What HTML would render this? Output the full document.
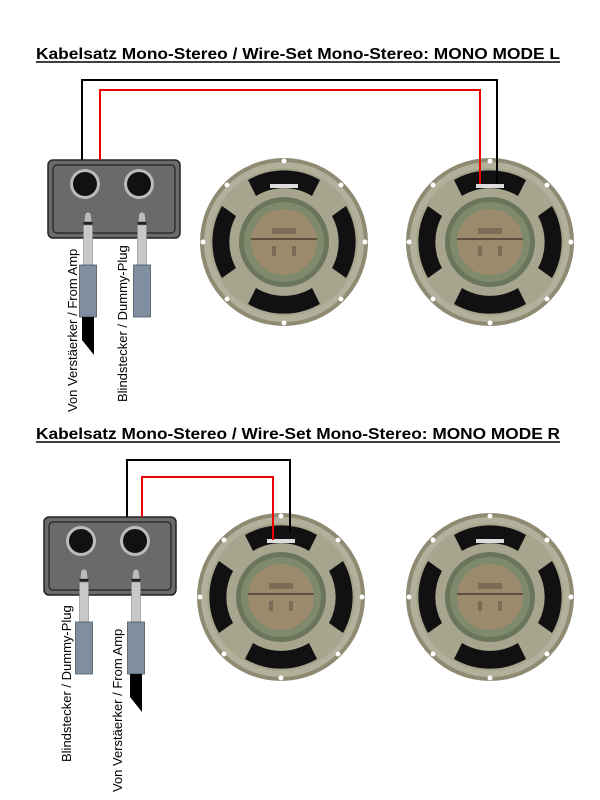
<!DOCTYPE html>
<html><head><meta charset="utf-8"><style>
html,body{margin:0;padding:0;background:#fff;width:600px;height:800px;overflow:hidden}
svg{display:block}
text{font-family:"Liberation Sans",Arial,sans-serif}
</style></head><body>
<svg width="600" height="800" viewBox="0 0 600 800" xmlns="http://www.w3.org/2000/svg">
<defs>
<g id="spk">
  <circle r="84" fill="#8e8b72"/>
  <circle r="80" fill="#b3b19b"/>
  <circle r="74" fill="#a7a58d"/>
  <path d="M-36,-62 A72,72 0 0 1 36,-62 L28,-46 A54,54 0 0 0 -28,-46Z" fill="#111"/>
  <path d="M-36,62 A72,72 0 0 0 36,62 L28,46 A54,54 0 0 1 -28,46Z" fill="#111"/>
  <path d="M-62,-36 A72,72 0 0 0 -62,36 L-48,26 A54,54 0 0 1 -48,-26Z" fill="#111"/>
  <path d="M62,-36 A72,72 0 0 1 62,36 L48,26 A54,54 0 0 0 48,-26Z" fill="#111"/>
  <circle r="45" fill="#6b755b"/>
  <circle r="40" fill="#7f8a6c"/>
  <circle r="33" fill="#9c8a6c"/>
  <rect x="-33" y="-4" width="66" height="2" fill="#5e5040"/>
  <rect x="-12" y="-14" width="24" height="6" fill="#7b6c55"/>
  <rect x="-12" y="4" width="4" height="10" fill="#7b6c55"/>
  <rect x="8" y="4" width="4" height="10" fill="#7b6c55"/>
  <rect x="-14" y="-58" width="28" height="4" fill="#ddd"/>
  <circle cx="0" cy="-81" r="2.5" fill="#fff"/><circle cx="0" cy="81" r="2.5" fill="#fff"/>
  <circle cx="-81" cy="0" r="2.5" fill="#fff"/><circle cx="81" cy="0" r="2.5" fill="#fff"/>
  <circle cx="-57" cy="-57" r="2.5" fill="#fff"/><circle cx="57" cy="-57" r="2.5" fill="#fff"/>
  <circle cx="-57" cy="57" r="2.5" fill="#fff"/><circle cx="57" cy="57" r="2.5" fill="#fff"/>
</g>
<g id="box">
  <rect x="0" y="0" width="132" height="78" rx="5" fill="#6a6a6a" stroke="#222" stroke-width="1.5"/>
  <rect x="5" y="5" width="122" height="68" rx="4" fill="none" stroke="#222" stroke-width="1.2"/>
  <circle cx="37" cy="24" r="15" fill="#bbb"/><circle cx="37" cy="24" r="12" fill="#111"/>
  <circle cx="91" cy="24" r="15" fill="#bbb"/><circle cx="91" cy="24" r="12" fill="#111"/>
</g>
<g id="plug">
  <path d="M-3,0 Q0,-4 3,0 L4,8 L-4,8Z" fill="#bbb" stroke="#666" stroke-width="0.7"/>
  <rect x="-4.5" y="8" width="9" height="3" fill="#222"/>
  <rect x="-4.5" y="11" width="9" height="40" fill="#c8c8c8" stroke="#888" stroke-width="0.6"/>
  <rect x="-8.5" y="51" width="17" height="52" fill="#7f8fa0" stroke="#4c5866" stroke-width="0.8"/>
</g>
</defs>

<text x="36" y="59" font-size="16" font-weight="bold" textLength="524" lengthAdjust="spacingAndGlyphs">Kabelsatz Mono-Stereo / Wire-Set Mono-Stereo: MONO MODE L</text>
<line x1="36" y1="62" x2="560" y2="62" stroke="#000" stroke-width="1.5"/>

<use href="#spk" x="284" y="242"/>
<use href="#spk" x="490" y="242"/>
<use href="#box" x="48" y="160"/>
<polyline points="82,160 82,80 497,80 497,184" fill="none" stroke="#000" stroke-width="2"/>
<polyline points="100,160 100,90 480,90 480,184" fill="none" stroke="#e00" stroke-width="2"/>
<use href="#plug" x="88" y="214"/>
<use href="#plug" x="142" y="214"/>
<path d="M82,317 L94,317 L94,355 L82,340Z" fill="#000"/>
<text transform="translate(77,412) rotate(-90)" font-size="13">Von Verstäerker / From Amp</text>
<text transform="translate(127,402) rotate(-90)" font-size="13">Blindstecker / Dummy-Plug</text>

<text x="36" y="439" font-size="16" font-weight="bold" textLength="524" lengthAdjust="spacingAndGlyphs">Kabelsatz Mono-Stereo / Wire-Set Mono-Stereo: MONO MODE R</text>
<line x1="36" y1="442" x2="560" y2="442" stroke="#000" stroke-width="1.5"/>

<use href="#spk" x="281" y="597"/>
<use href="#spk" x="490" y="597"/>
<use href="#box" x="44" y="517"/>
<polyline points="127,517 127,460 290,460 290,532" fill="none" stroke="#000" stroke-width="2"/>
<polyline points="142,517 142,477 273,477 273,540" fill="none" stroke="#e00" stroke-width="2"/>
<use href="#plug" x="84" y="571"/>
<use href="#plug" x="136" y="571"/>
<path d="M130,674 L142,674 L142,712 L130,697Z" fill="#000"/>
<text transform="translate(71,762) rotate(-90)" font-size="13">Blindstecker / Dummy-Plug</text>
<text transform="translate(122,792) rotate(-90)" font-size="13">Von Verstäerker / From Amp</text>
</svg>
</body></html>
